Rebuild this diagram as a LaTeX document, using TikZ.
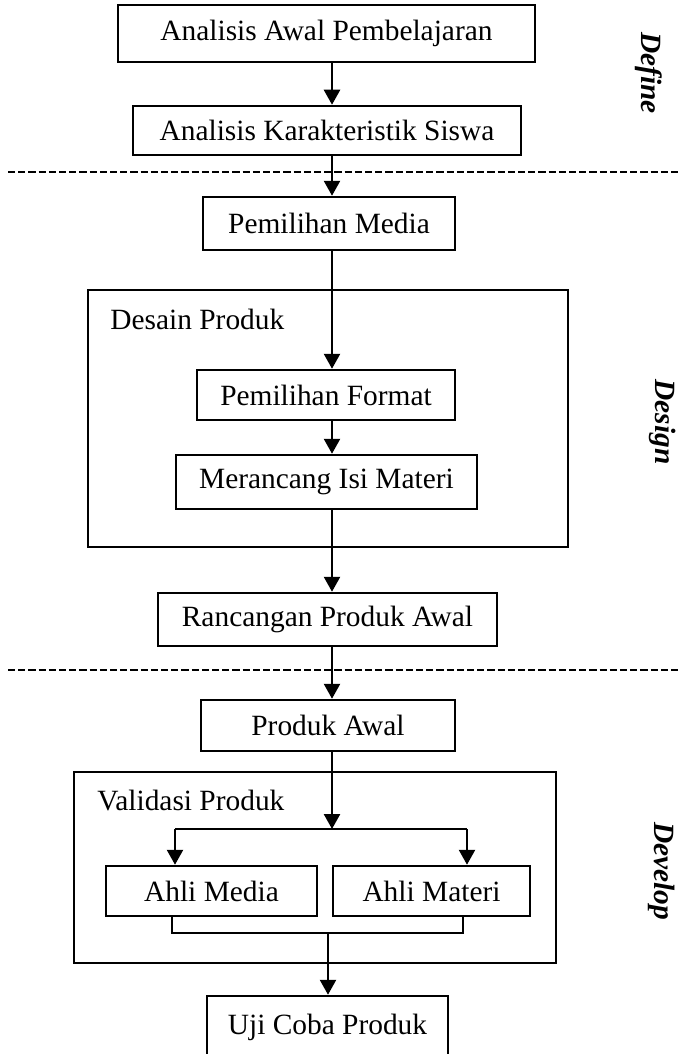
\documentclass[tikz,border=0pt]{standalone}
\usepackage{fontspec}
\setmainfont{Liberation Serif}
\usetikzlibrary{arrows.meta,calc}
\begin{document}
\begin{tikzpicture}[x=0.5pt,y=-0.5pt,
  txt/.style={font=\fontsize{14.7}{17}\selectfont},
  box/.style={draw,line width=1.25pt,inner sep=0pt,txt},
  frame/.style={draw,line width=1.25pt},
  conn/.style={line width=1.25pt},
  arr/.style={line width=1.25pt,-{Triangle[length=7.5pt,width=8pt]}},
  dashline/.style={line width=1.25pt,dash pattern=on 3.6pt off 1.5pt},
  side/.style={font=\fontsize{14.7}{17}\selectfont\bfseries\itshape,rotate=-90,inner sep=0pt}]
\useasboundingbox (0,0) rectangle (679,1054);

% boxes
\node[box,minimum width=208.5pt,minimum height=28.5pt] (a1) at (326.5,33.5) {Analisis Awal Pembelajaran};
\node[box,minimum width=194pt,minimum height=24.5pt] (a2) at (327,130.5) {Analisis Karakteristik Siswa};
\node[box,minimum width=126pt,minimum height=26.5pt] (a3) at (329,223.5) {Pemilihan Media};
\node[box,minimum width=129pt,minimum height=25pt] (a4) at (326,395) {Pemilihan Format};
\node[box,minimum width=150.5pt,minimum height=27pt] (a5) at (326.5,482) {Merancang Isi Materi};
\node[box,minimum width=169.5pt,minimum height=26.5pt] (a6) at (327.5,619.5) {Rancangan Produk Awal};
\node[box,minimum width=127pt,minimum height=25.5pt] (a7) at (328,725.5) {Produk Awal};
\node[box,minimum width=105.5pt,minimum height=25pt] (b1) at (211.5,891) {Ahli Media};
\node[box,minimum width=98.5pt,minimum height=25pt] (b2) at (431.5,891) {Ahli Materi};
\node[box,minimum width=120.5pt,minimum height=31pt] (b3) at (327.5,1027) {Uji Coba Produk};

% frames
\draw[frame] (88,290) rectangle (568,547);
\node[txt,anchor=base west,inner sep=0pt] (l1) at (110,329) {Desain Produk};
\draw[frame] (74,772) rectangle (556,963);
\node[txt,anchor=base west,inner sep=0pt] (l2) at (97,810) {Validasi Produk};

% dashed separators
\draw[dashline] (8,172) -- (679,172);
\draw[dashline] (8,670) -- (679,670);

% side labels
\node[side] (def) at (649,73) {Define};
\node[side] (des) at (663,422) {Design};
\node[side] (dev) at (662,871) {Develop};

% connectors
\coordinate (sp) at (332,0);
\draw[arr] (a1.south -| sp) -- (a2.north -| sp);
\draw[arr] (a2.south -| sp) -- (a3.north -| sp);
\draw[arr] (a3.south -| sp) -- (a4.north -| sp);
\draw[arr] (a4.south -| sp) -- (a5.north -| sp);
\draw[arr] (a5.south -| sp) -- (a6.north -| sp);
\draw[arr] (a6.south -| sp) -- (a7.north -| sp);
\coordinate (j1) at (332,829);
\coordinate (jl) at (175,829);
\coordinate (jr) at (467,829);
\draw[arr] (a7.south -| sp) -- (j1);
\draw[conn] (jl) -- (jr);
\draw[arr] (jl) -- (b1.north -| jl);
\draw[arr] (jr) -- (b2.north -| jr);
\coordinate (ml) at (172,933);
\coordinate (mr) at (463,933);
\coordinate (mm) at (328,933);
\draw[conn] (b1.south -| ml) -- (ml) -- (mr) -- (b2.south -| mr);
\draw[arr] (mm) -- (b3.north -| mm);
\end{tikzpicture}
\end{document}
